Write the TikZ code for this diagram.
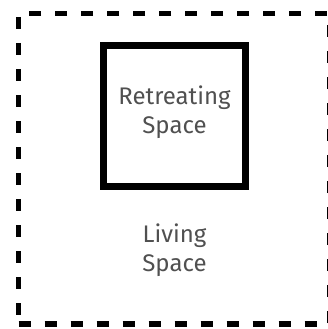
\documentclass[tikz,border=0pt]{standalone}
\usepackage{fontspec}
\setmainfont{Fira Sans}
\usepackage{tikz}
\usetikzlibrary{positioning}
\definecolor{labelgray}{HTML}{505050}
\tikzset{
  livingbox/.style={draw=black,line width=5.5pt,dash pattern=on 12pt off 14pt,
                    minimum width=311pt,minimum height=310.5pt,inner sep=0pt},
  retreatbox/.style={draw=black,line width=7pt,minimum width=142pt,
                     minimum height=141pt,inner sep=0pt},
  spacelabel/.style={text=labelgray,font=\fontsize{24}{29}\selectfont,
                     align=center,inner sep=0pt},
}
\begin{document}
\begin{tikzpicture}[x=1pt,y=-1pt]
  \useasboundingbox (0,0) rectangle (328,329);
  % outer living area, dashed
  \node[livingbox] (living) at (174,168.75) {};
  % inner retreat area
  \node[retreatbox] (retreat) at (174.5,116) {};
  \node[spacelabel,yshift=4pt] (retreatlbl) at (retreat.center) {Retreating\\Space};
  \node[spacelabel,below=34pt of retreat] (livinglbl) {Living\\Space};
\end{tikzpicture}
\end{document}
